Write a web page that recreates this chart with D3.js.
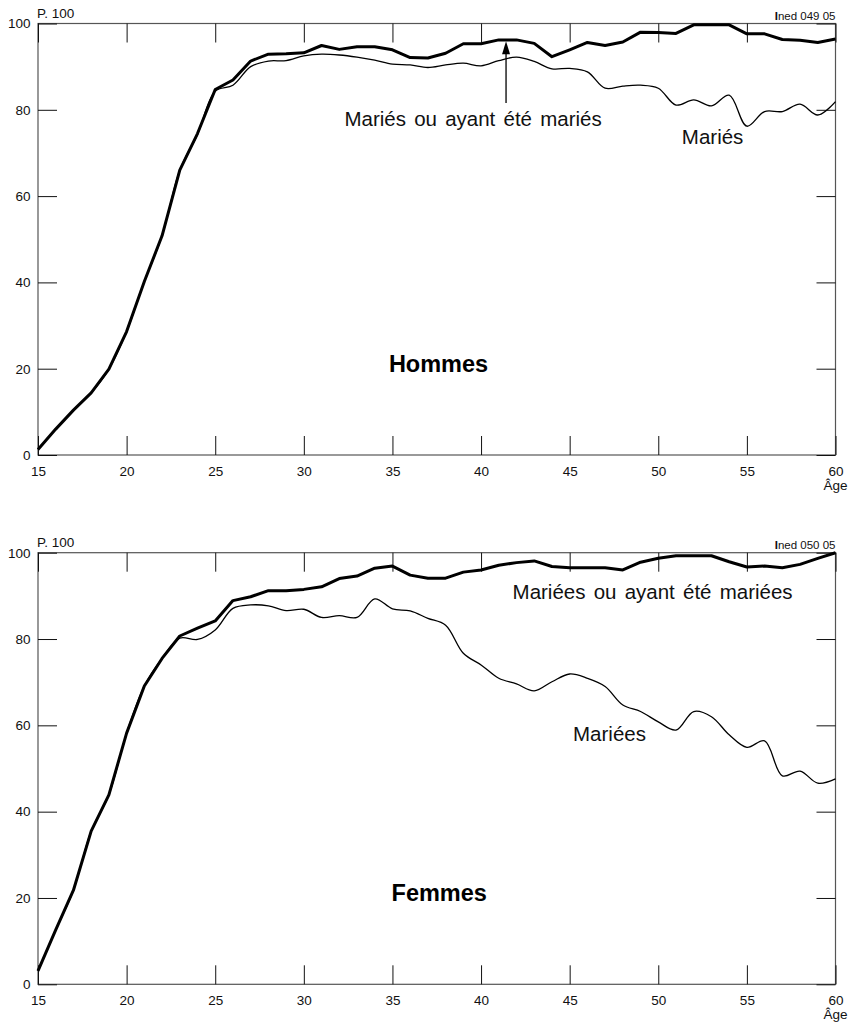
<!DOCTYPE html>
<html>
<head>
<meta charset="utf-8">
<script src="https://cdn.jsdelivr.net/npm/d3@7"></script>
<style>
  body { margin: 0; background: #fff; }
  svg { display: block; font-family: "Liberation Sans", Arial, Helvetica, sans-serif; }
</style>
</head>
<body>
<script>
// ages 15..60
const ages = [15, 16, 17, 18, 19, 20, 21, 22, 23, 24, 25, 26, 27, 28, 29, 30,
  31, 32, 33, 34, 35, 36, 37, 38, 39, 40, 41, 42, 43, 44, 45, 46, 47, 48, 49,
  50, 51, 52, 53, 54, 55, 56, 57, 58, 59, 60];

// Hommes
const menEver = [1.3, 6.0, 10.4, 14.4, 19.9, 28.6, 40.2, 50.8, 66.0, 74.5,
  84.7, 86.9, 91.3, 92.9, 93.0, 93.2, 94.9, 94.0, 94.6, 94.6, 93.9, 92.1, 92.0,
  93.1, 95.3, 95.3, 96.2, 96.2, 95.4, 92.3, 93.9, 95.6, 94.9, 95.7, 98.0, 97.9,
  97.7, 99.7, 99.7, 99.7, 97.6, 97.6, 96.3, 96.1, 95.6, 96.4];
const menMarried = [1.3, 6.0, 10.4, 14.4, 19.9, 28.6, 40.2, 50.8, 66.0, 74.3,
  84.3, 85.7, 90.0, 91.3, 91.4, 92.5, 92.9, 92.7, 92.2, 91.5, 90.6, 90.4, 89.8,
  90.4, 90.8, 90.2, 91.4, 92.2, 91.2, 89.5, 89.6, 88.8, 85.0, 85.5, 85.7, 85.0,
  81.1, 82.3, 80.9, 83.4, 76.2, 79.6, 79.6, 81.3, 78.8, 81.9];

// Femmes
const womenEver = [3.1, 12.6, 21.8, 35.5, 43.9, 58.2, 69.1, 75.5, 80.7, 82.5,
  84.2, 88.9, 89.8, 91.2, 91.2, 91.5, 92.1, 94.0, 94.6, 96.4, 96.9, 94.8, 94.1,
  94.1, 95.5, 96.0, 97.1, 97.7, 98.1, 96.8, 96.5, 96.5, 96.5, 96.0, 97.8, 98.7,
  99.3, 99.3, 99.3, 97.9, 96.7, 96.9, 96.5, 97.3, 98.7, 100.0];
const womenMarried = [3.1, 12.6, 21.8, 35.5, 43.9, 58.2, 69.1, 75.5, 80.2, 79.9,
  82.1, 87.1, 87.9, 87.7, 86.6, 86.9, 85.0, 85.4, 85.0, 89.3, 87.0, 86.5, 84.8,
  83.2, 76.7, 74.0, 70.9, 69.6, 68.0, 70.1, 71.9, 70.9, 69.0, 64.7, 63.2, 60.8,
  58.9, 63.2, 62.0, 57.8, 54.9, 56.4, 48.3, 49.4, 46.6, 47.6];

const xTicks = [15, 20, 25, 30, 35, 40, 45, 50, 55, 60];
const yTicks = [0, 20, 40, 60, 80, 100];

const panels = [
  {
    top: 23.5, bottom: 455, ever: menEver, married: menMarried,
    code: "ned 049 05", title: "Hommes",
    everLabel: { text: "Mariés ou ayant été mariés", age: 39.55, v: 76.2, anchor: "middle" },
    marriedLabel: { text: "Mariés", age: 51.33, v: 72.1, anchor: "start" },
    arrow: { age: 41.41, from: 81.6, to: 95.9 },
    titlePos: { age: 37.6, v: 19.2 }
  },
  {
    top: 552.7, bottom: 984.3, ever: womenEver, married: womenMarried,
    code: "ned 050 05", title: "Femmes",
    everLabel: { text: "Mariées ou ayant été mariées", age: 49.68, v: 89.2, anchor: "middle" },
    marriedLabel: { text: "Mariées", age: 45.19, v: 56.4, anchor: "start" },
    arrow: null,
    titlePos: { age: 37.64, v: 19.3 }
  }
];

const W = 849, H = 1028;
const left = 38, right = 835.5, tickLen = 19;

const svg = d3.select("body").append("svg").attr("width", W).attr("height", H);

const x = d3.scaleLinear().domain([15, 60]).range([left, right]);

panels.forEach((p) => {
  const y = d3.scaleLinear().domain([0, 100]).range([p.bottom, p.top]);
  const g = svg.append("g");

  // frame
  g.append("rect")
    .attr("x", left).attr("y", p.top)
    .attr("width", right - left).attr("height", p.bottom - p.top)
    .attr("fill", "none").attr("stroke", "#555").attr("stroke-width", 1.2);

  const styleAxis = (sel) => {
    sel.select(".domain").remove();
    sel.selectAll(".tick line").attr("stroke", "#111").attr("stroke-width", 1);
    sel.selectAll(".tick text").attr("fill", "#111").attr("font-size", "13.5px")
      .attr("font-family", "'Liberation Sans', Arial, Helvetica, sans-serif");
  };

  g.append("g").attr("transform", `translate(0,${p.bottom})`)
    .call(d3.axisBottom(x).tickValues(xTicks).tickSize(-tickLen).tickPadding(11.4))
    .call(styleAxis);
  g.append("g").attr("transform", `translate(0,${p.top})`)
    .call(d3.axisTop(x).tickValues(xTicks).tickSize(-tickLen).tickFormat(""))
    .call(styleAxis);
  g.append("g").attr("transform", `translate(${left},0)`)
    .call(d3.axisLeft(y).tickValues(yTicks).tickSize(-tickLen).tickPadding(7.5))
    .call(styleAxis);
  g.append("g").attr("transform", `translate(${right},0)`)
    .call(d3.axisRight(y).tickValues(yTicks).tickSize(-tickLen).tickFormat(""))
    .call(styleAxis);

  // header texts
  g.append("text").attr("x", left - 1).attr("y", p.top - 6)
    .attr("font-size", "13.5px").attr("fill", "#111").text("P. 100");
  const code = g.append("text").attr("x", right).attr("y", p.top - 4)
    .attr("text-anchor", "end").attr("font-size", "11.5px").attr("fill", "#111");
  code.append("tspan").attr("font-weight", "bold").text("I");
  code.append("tspan").text(p.code);

  g.append("text").attr("x", x(60)).attr("y", p.bottom + 35)
    .attr("text-anchor", "middle").attr("font-size", "13.5px").attr("fill", "#111")
    .text("Âge");

  // lines
  const thin = d3.line().x((d, i) => x(ages[i])).y((d) => y(d))
    .curve(d3.curveCatmullRom.alpha(0.5));
  const thick = d3.line().x((d, i) => x(ages[i])).y((d) => y(d));

  g.append("path").datum(p.married).attr("d", thin)
    .attr("fill", "none").attr("stroke", "#000").attr("stroke-width", 1.3);
  g.append("path").datum(p.ever).attr("d", thick)
    .attr("fill", "none").attr("stroke", "#000").attr("stroke-width", 3)
    .attr("stroke-linejoin", "round");

  // labels
  [p.everLabel, p.marriedLabel].forEach((l) => {
    g.append("text").attr("x", x(l.age)).attr("y", y(l.v))
      .attr("text-anchor", l.anchor).attr("font-size", "20.5px").attr("fill", "#111")
      .attr("word-spacing", "2.5px")
      .text(l.text);
  });
  g.append("text").attr("x", x(p.titlePos.age)).attr("y", y(p.titlePos.v))
    .attr("text-anchor", "middle").attr("font-size", "23.5px").attr("font-weight", "bold")
    .attr("fill", "#000").text(p.title);

  if (p.arrow) {
    const ax = x(p.arrow.age), y0 = y(p.arrow.from), y1 = y(p.arrow.to);
    g.append("line").attr("x1", ax).attr("x2", ax).attr("y1", y0).attr("y2", y1 + 10)
      .attr("stroke", "#000").attr("stroke-width", 1.3);
    g.append("path")
      .attr("d", d3.line()([[ax, y1], [ax - 4, y1 + 13], [ax + 4, y1 + 13]]) + "Z")
      .attr("fill", "#000");
  }
});
</script>
</body>
</html>
